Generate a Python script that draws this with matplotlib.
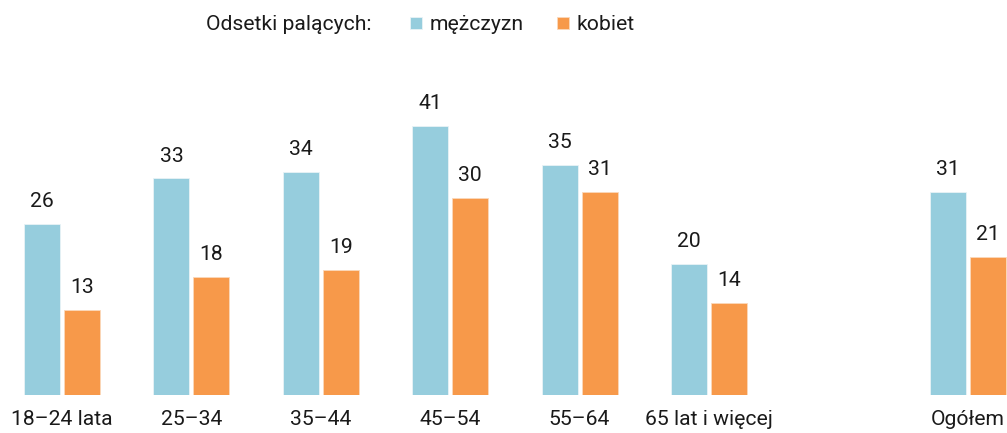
import matplotlib
matplotlib.use("Agg")
import matplotlib.pyplot as plt
import numpy as np

plt.rcParams['font.family'] = ['Roboto', 'DejaVu Sans']

categories = ["18–24 lata", "25–34", "35–44", "45–54", "55–64", "65 lat i więcej", "Ogółem"]
positions = [0, 1, 2, 3, 4, 5, 7]
men = [26, 33, 34, 41, 35, 20, 31]
women = [13, 18, 19, 30, 31, 14, 21]

c_men = "#96CDDD"
c_women = "#F7994A"
FS = 15.2

fig = plt.figure(figsize=(10.07, 4.33), dpi=100)
ax = fig.add_axes([0, (433-395)/433, 1, 395/433])

x = np.array(positions, dtype=float)
w = 0.278
off = 0.1546
b1 = ax.bar(x - off, men, w, color=c_men, edgecolor="#e8f3f6", linewidth=0.6, label="mężczyzn")
b2 = ax.bar(x + off, women, w, color=c_women, edgecolor="#fbd9bb", linewidth=0.6, label="kobiet")

for bars, vals in ((b1, men), (b2, women)):
    for r, v in zip(bars, vals):
        ax.annotate(str(v), (r.get_x() + r.get_width()/2, v), xytext=(0, 12.2),
                    textcoords="offset points", ha="center", va="baseline",
                    fontsize=FS, color="#1a1a1a")

ax.set_xlim(-0.479, 7.303)
ax.set_ylim(0, 60.2)
for s in ax.spines.values():
    s.set_visible(False)
ax.set_yticks([])
ax.set_xticks(x)
ax.set_xticklabels(categories, fontsize=FS, color="#1a1a1a")
ax.tick_params(axis="x", length=0, pad=11)

fig.text(372/1007, 1 - 25/433, "Odsetki palących:", ha="right", va="center",
         fontsize=FS, color="#1a1a1a")
leg = fig.legend(handles=[b1, b2], loc="center left", bbox_to_anchor=(410/1007, 1 - 25/433),
                 ncol=2, frameon=False, fontsize=FS, handlelength=0.55, handleheight=0.55,
                 handletextpad=0.4, columnspacing=1.55, borderaxespad=0, borderpad=0)
for t in leg.get_texts():
    t.set_color("#1a1a1a")

fig.savefig("out.png", dpi=100)
